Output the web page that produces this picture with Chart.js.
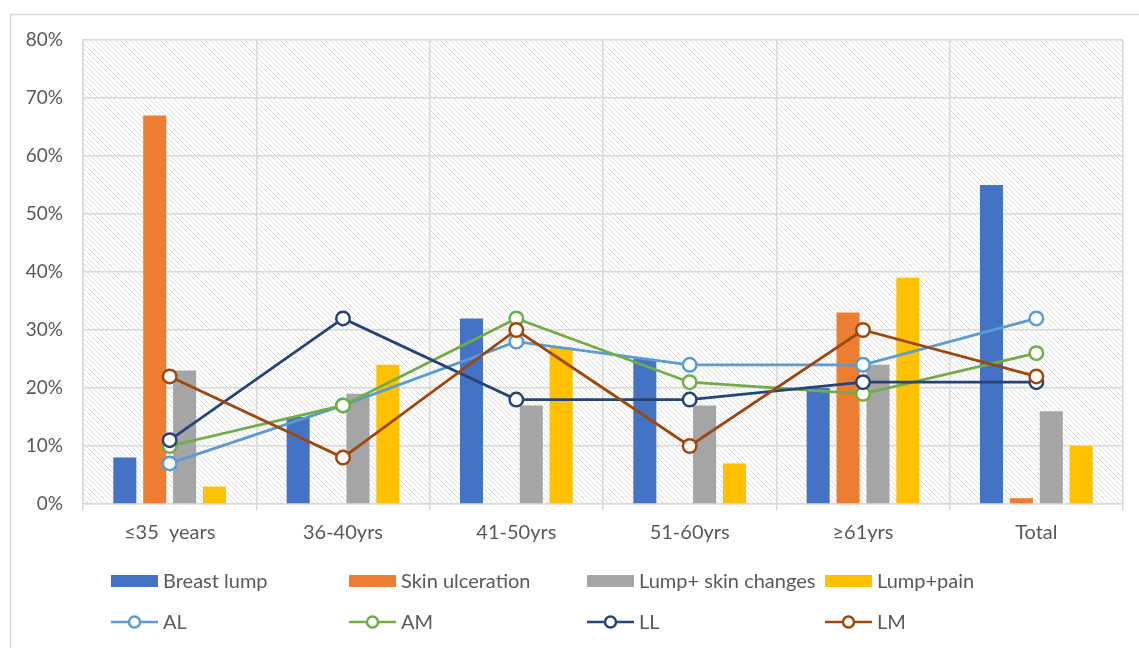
<!DOCTYPE html>
<html>
<head>
<meta charset="utf-8">
<script src="https://cdn.jsdelivr.net/npm/chart.js@4/dist/chart.umd.min.js"></script>
<style>
  html, body { margin: 0; padding: 0; background: #ffffff; }
  #wrap { width: 1139px; height: 648px; position: relative; }
</style>
</head>
<body>
<div id="wrap"><canvas id="c" width="1139" height="648"></canvas></div>
<script>
// Age groups on the x axis
const categories = ['≤35  years', '36-40yrs', '41-50yrs', '51-60yrs', '≥61yrs', 'Total'];

// Presenting complaint shares (%)
const breastLump      = [8, 15, 32, 25, 20, 55];
const skinUlceration  = [67, 0, 0, 0, 33, 1];
const lumpSkinChanges = [23, 19, 17, 17, 24, 16];
const lumpPain        = [3, 24, 27, 7, 39, 10];

// Tumour location shares (%)
const AL = [7, 17, 28, 24, 24, 32];
const AM = [10, 17, 32, 21, 19, 26];
const LL = [11, 32, 18, 18, 21, 21];
const LM = [22, 8, 30, 10, 30, 22];

// Value axis ticks
const yTicks = [0, 10, 20, 30, 40, 50, 60, 70, 80];

const FONT = 'Lato, "Noto Sans", sans-serif';
const TEXT = '#595959';
const GRID = '#d9d9d9';

function barSet(label, data, color) {
  return { type: 'bar', label, data, backgroundColor: color, borderWidth: 0,
           categoryPercentage: 0.69, barPercentage: 0.77, order: 10 };
}
function lineSet(label, data, color, order) {
  return { type: 'line', label, data, borderColor: color, borderWidth: 2.75,
           pointRadius: 6.75, pointHoverRadius: 6.75, pointBorderWidth: 2.5,
           pointBackgroundColor: '#ffffff', pointBorderColor: color,
           tension: 0, fill: false, order };
}

// Diagonal hatch used behind the plot area
function hatchPattern(ctx) {
  const t = document.createElement('canvas');
  t.width = 5; t.height = 5;
  const g = t.getContext('2d');
  g.strokeStyle = '#dcdcdc';
  g.lineWidth = 1;
  g.beginPath();
  g.moveTo(-1, -1); g.lineTo(6, 6);
  g.moveTo(-1, 4); g.lineTo(1, 6);
  g.moveTo(4, -1); g.lineTo(6, 1);
  g.stroke();
  return ctx.createPattern(t, 'repeat');
}

const backdrop = {
  id: 'backdrop',
  beforeDraw(chart) {
    const { ctx, chartArea: a } = chart;
    ctx.save();
    ctx.fillStyle = '#ffffff';
    ctx.fillRect(0, 0, chart.width, chart.height);
    ctx.strokeStyle = GRID;
    ctx.lineWidth = 1.5;
    ctx.strokeRect(10.5, 14.5, 3000, 3000);
    ctx.fillStyle = hatchPattern(ctx);
    ctx.fillRect(a.left, a.top, a.right - a.left, a.bottom - a.top);
    ctx.restore();
  }
};

// Four-column legend: bar series on the first row, line series on the second
const gridLegend = {
  id: 'gridLegend',
  afterDraw(chart) {
    const { ctx } = chart;
    const ds = chart.data.datasets;
    const colX = [111, 349, 587, 825];
    const rowY = [581, 622];
    ctx.save();
    ctx.font = '20px ' + FONT;
    ctx.textBaseline = 'middle';
    ctx.textAlign = 'left';
    ds.forEach((d, i) => {
      const row = d.type === 'bar' ? 0 : 1;
      const col = row === 0 ? i : i - 4;
      const x = colX[col], y = rowY[row];
      if (d.type === 'bar') {
        ctx.fillStyle = d.backgroundColor;
        ctx.fillRect(x, y - 6, 47, 12);
      } else {
        ctx.strokeStyle = d.borderColor;
        ctx.lineWidth = 2.5;
        ctx.beginPath(); ctx.moveTo(x, y); ctx.lineTo(x + 47, y); ctx.stroke();
        ctx.beginPath(); ctx.arc(x + 23.5, y, 5.5, 0, Math.PI * 2);
        ctx.fillStyle = '#ffffff'; ctx.fill(); ctx.stroke();
      }
      ctx.fillStyle = TEXT;
      ctx.fillText(d.label, x + 52, y + 1);
    });
    ctx.restore();
  }
};

new Chart(document.getElementById('c'), {
  data: {
    labels: categories,
    datasets: [
      barSet('Breast lump', breastLump, '#4472C4'),
      barSet('Skin ulceration', skinUlceration, '#ED7D31'),
      barSet('Lump+ skin changes', lumpSkinChanges, '#A5A5A5'),
      barSet('Lump+pain', lumpPain, '#FFC000'),
      lineSet('AL', AL, '#5B9BD5', 4),
      lineSet('AM', AM, '#70AD47', 3),
      lineSet('LL', LL, '#264478', 2),
      lineSet('LM', LM, '#9E480E', 1)
    ]
  },
  options: {
    responsive: false,
    animation: false,
    layout: { padding: { left: 0, right: 16, top: 40, bottom: 0 } },
    plugins: { legend: { display: false }, tooltip: { enabled: false } },
    scales: {
      x: {
        offset: true,
        grid: { offset: true, color: GRID, lineWidth: 1.5, drawTicks: true, tickLength: 6 },
        border: { display: true, color: GRID, width: 1.5 },
        ticks: { color: TEXT, font: { family: FONT, size: 20 }, padding: 11, maxRotation: 0 },
        afterFit(s) { s.height = 144; }
      },
      y: {
        min: 0, max: 80,
        afterBuildTicks(s) { s.ticks = yTicks.map(v => ({ value: v })); },
        grid: { color: GRID, lineWidth: 1.5, drawTicks: false },
        border: { display: true, color: GRID, width: 1.5 },
        ticks: { color: TEXT, font: { family: FONT, size: 19 }, padding: 20,
                 callback: v => v + '%' },
        afterFit(s) { s.width = 83; }
      }
    }
  },
  plugins: [backdrop, gridLegend]
});
</script>
</body>
</html>
